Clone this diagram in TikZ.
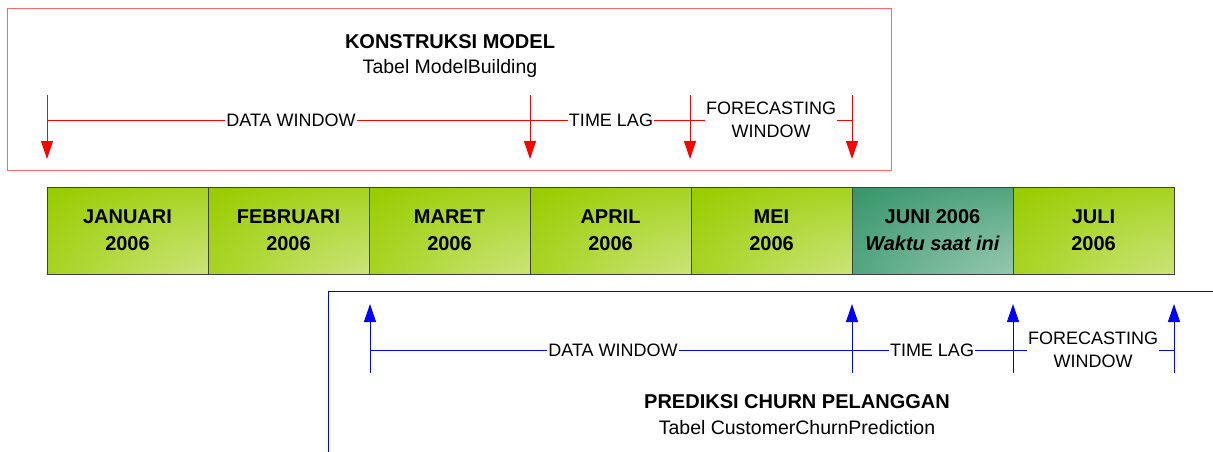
\documentclass[tikz,border=0pt]{standalone}
\usepackage{fontspec}
\setmainfont{Liberation Sans}
\usetikzlibrary{arrows.meta}
\definecolor{mgreen}{HTML}{99CC00}
\definecolor{mlight}{HTML}{FBFDF3}
\definecolor{jgreen}{HTML}{2E9163}
\definecolor{jlight}{HTML}{F4FAF7}
\definecolor{boxred}{HTML}{FF6666}
\definecolor{mborder}{HTML}{404040}
\pgfdeclareradialshading{monthshade}{\pgfpoint{50bp}{-50bp}}{color(0bp)=(mlight); color(20bp)=(mlight!50!mgreen); color(60bp)=(mgreen); color(100bp)=(mgreen)}
\pgfdeclareradialshading{juneshade}{\pgfpoint{50bp}{-50bp}}{color(0bp)=(jlight); color(22bp)=(jlight!50!jgreen); color(65bp)=(jgreen); color(100bp)=(jgreen)}
\tikzset{
  month/.style={draw=mborder, line width=0.8pt, minimum width=161pt, minimum height=87pt,
    inner sep=0pt, align=center, shade, shading=monthshade,
    font=\bfseries\fontsize{20}{27}\selectfont},
  june/.style={month, shading=juneshade},
  lbl/.style={fill=white, inner xsep=1pt, inner ysep=1pt, align=center,
    font=\fontsize{18}{23}\selectfont},
  ttl/.style={font=\bfseries\fontsize{20}{24}\selectfont},
  sub/.style={font=\fontsize{19.5}{23}\selectfont},
  redarr/.style={draw=red, line width=1pt, -{Triangle[length=18pt,width=12pt]}},
  bluearr/.style={draw=blue, line width=1pt, -{Triangle[length=18pt,width=12pt]}},
}
\begin{document}
\begin{tikzpicture}[x=1pt,y=-1pt]
\useasboundingbox (0,0) rectangle (1213,452);
% red frame
\node[draw=boxred, line width=1pt, minimum width=884pt, minimum height=161pt, inner sep=0pt] (redbox) at (449,89.5) {};
\node[ttl] (rtitle) at (450,42) {KONSTRUKSI MODEL};
\node[sub] (rsub) at (450,68) {Tabel ModelBuilding};
% red timeline
\coordinate (rl1) at (47,120);
\coordinate (rl2) at (852,120);
\draw[red, line width=1pt] (rl1) -- (rl2);
\foreach \i/\x in {1/47,2/530,3/690,4/852}{
  \coordinate (rt\i) at (\x,95);
  \coordinate (rb\i) at (\x,159);
  \draw[redarr] (rt\i) -- (rb\i);
}
\node[lbl] (rdw) at (291,120) {DATA WINDOW};
\node[lbl] (rtl) at (611,120) {TIME LAG};
\node[lbl] (rfw) at (771,120) {FORECASTING\\WINDOW};
% months
\node[month] (m1) at (127.5,230.5) {JANUARI\\2006};
\node[month] (m2) at (288.5,230.5) {FEBRUARI\\2006};
\node[month] (m3) at (449.5,230.5) {MARET\\2006};
\node[month] (m4) at (610.5,230.5) {APRIL\\2006};
\node[month] (m5) at (771.5,230.5) {MEI\\2006};
\node[june] (m6) at (932.5,230.5) {JUNI 2006\\\textit{Waktu saat ini}};
\node[month] (m7) at (1093.5,230.5) {JULI\\2006};
% blue frame
\coordinate (bb1) at (328,452);
\coordinate (bb2) at (328,291);
\coordinate (bb3) at (1213,291);
\draw[blue, line width=1pt] (bb1) -- (bb2) -- (bb3);
\node[ttl] (btitle) at (797,402) {PREDIKSI CHURN PELANGGAN};
\node[sub] (bsub) at (797,428) {Tabel CustomerChurnPrediction};
% blue timeline
\coordinate (bl1) at (370,350);
\coordinate (bl2) at (1174,350);
\draw[blue, line width=1pt] (bl1) -- (bl2);
\foreach \i/\x in {1/370,2/852,3/1013,4/1174}{
  \coordinate (bt\i) at (\x,304);
  \coordinate (bbo\i) at (\x,373);
  \draw[bluearr] (bbo\i) -- (bt\i);
}
\node[lbl] (bdw) at (613,350) {DATA WINDOW};
\node[lbl] (btl) at (932,350) {TIME LAG};
\node[lbl] (bfw) at (1093,350) {FORECASTING\\WINDOW};
\end{tikzpicture}
\end{document}
